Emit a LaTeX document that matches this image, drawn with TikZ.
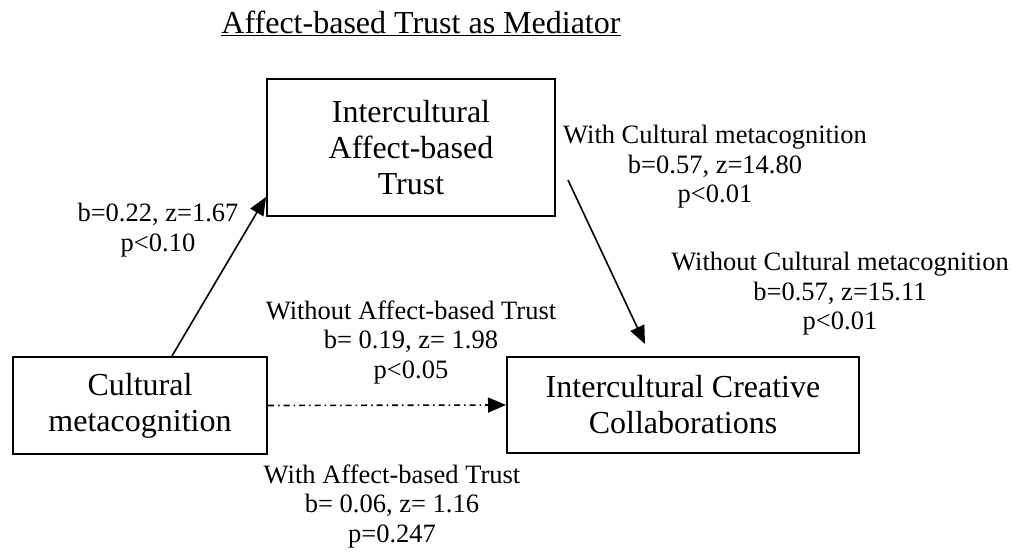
\documentclass[tikz,border=0pt]{standalone}
\usepackage{fontspec}
\setmainfont{Liberation Serif}
\usetikzlibrary{arrows.meta}
\begin{document}
\begin{tikzpicture}[x=1pt,y=-1pt,
  boxfont/.style={font=\fontsize{32}{36}\selectfont},
  labelfont/.style={font=\fontsize{26.5}{29.5}\selectfont},
  varbox/.style={draw,line width=2pt,inner sep=0pt,align=center,boxfont},
  stat/.style={align=center,labelfont,inner sep=0pt},
  path/.style={line width=1.6pt,-{Triangle[length=18pt,width=15pt]}},
  dashdot path/.style={path,dash pattern=on 6pt off 4pt on 1.5pt off 4pt}]
\useasboundingbox (0,0) rectangle (1016,559);

% title
\node[boxfont,inner sep=0pt] (title) at (421,23) {\underline{Affect-based Trust as Mediator}};

% variables
\node[varbox,minimum width=288pt,minimum height=137pt] (trust) at (411,147.5)
  {Intercultural\\Affect-based\\Trust};
\node[varbox,minimum width=254pt,minimum height=97pt] (cm) at (140,405.5)
  {Cultural\\metacognition};
\node[varbox,minimum width=352pt,minimum height=96pt] (icc) at (683,405)
  {Intercultural Creative\\Collaborations};

% paths
\draw[path] ([xshift=32pt]cm.north) -- ([yshift=-49.5pt]trust.west);
\draw[path] ([xshift=12pt,yshift=-32.5pt]trust.east) -- ([xshift=-38pt,yshift=12pt]icc.north);
\draw[dashdot path] (cm.east) -- (icc.west);

% coefficients
\node[stat] (a) at (158,230) {b=0.22, z=1.67\\p<0.10};
\node[stat] (bw) at (715,167) {With Cultural metacognition\\b=0.57, z=14.80\\p<0.01};
\node[stat] (bwo) at (840,294) {Without Cultural metacognition\\b=0.57, z=15.11\\p<0.01};
\node[stat] (cwo) at (411,342) {Without Affect-based Trust\\b= 0.19, z= 1.98\\p<0.05};
\node[stat] (cw) at (392,506) {With Affect-based Trust\\b= 0.06, z= 1.16\\p=0.247};
\end{tikzpicture}
\end{document}
